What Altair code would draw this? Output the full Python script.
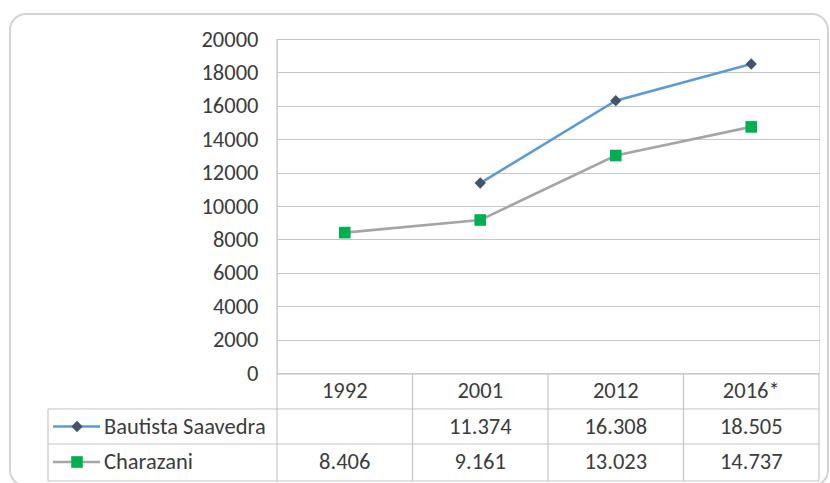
import altair as alt
import pandas as pd

# ---- data ----
years = ["1992", "2001", "2012", "2016*"]
series = ["Bautista Saavedra", "Charazani"]
bautista = [None, 11374, 16308, 18505]
charazani = [8406, 9161, 13023, 14737]
y_ticks = list(range(0, 20001, 2000))

line_colors = ["#5b9bd5", "#a5a5a5"]
marker_colors = ["#44546a", "#00b050"]
marker_shapes = ["diamond", "square"]

FONT = "Carlito, Liberation Sans, Arial, sans-serif"
TXT = "#3c3c3c"
GRID = "#c6c6c6"
FS = 22.5


def fmt(v):
    return f"{v:,}".replace(",", ".")


rows = []
for name, vals in zip(series, [bautista, charazani]):
    for yr, v in zip(years, vals):
        if v is not None:
            rows.append({"year": yr, "series": name, "value": v, "text": fmt(v), "row": name})
df = pd.DataFrame(rows)

table_rows = [{"year": yr, "row": "header", "text": yr} for yr in years]
table_rows += [{"year": r["year"], "row": r["row"], "text": r["text"]} for r in rows]
table_df = pd.DataFrame(table_rows)
legend_df = pd.DataFrame({"series": series, "row": series})

# ---- scales ----
W, H = 542, 334
x_enc = alt.X("year:N", scale=alt.Scale(type="point", domain=years, padding=0.5), axis=None)
y_val = alt.Y(
    "value:Q",
    scale=alt.Scale(domain=[0, 20000], nice=False, zero=True),
    axis=alt.Axis(values=y_ticks, format="d", grid=True, gridColor=GRID, gridWidth=1.2,
                  domain=False, ticks=False, labelPadding=19, labelFontSize=FS,
                  labelFont=FONT, labelColor=TXT, title=None),
)
row_scale = alt.Scale(type="point", domain=["header"] + series, range=[352, 423], padding=0)
y_row = alt.Y("row:N", scale=row_scale, axis=None)

col_line = alt.Color("series:N", scale=alt.Scale(domain=series, range=line_colors), legend=None)
col_fill = alt.Fill("series:N", scale=alt.Scale(domain=series, range=marker_colors), legend=None)
shape_enc = alt.Shape("series:N", scale=alt.Scale(domain=series, range=marker_shapes), legend=None)
size_enc = alt.Size("series:N", scale=alt.Scale(domain=series, range=[130, 135]), legend=None)

one = pd.DataFrame({"k": [0]})


def rule(x1, x2, y1, y2):
    return alt.Chart(one).mark_rule(color=GRID, strokeWidth=1.2).encode(
        x=alt.value(x1), x2=alt.value(x2), y=alt.value(y1), y2=alt.value(y2)
    )


# card border
card = alt.Chart(one).mark_rect(fill="transparent", stroke="#d3d3d3", strokeWidth=2,
                                cornerRadius=16).encode(
    x=alt.value(-267), x2=alt.value(551), y=alt.value(-25), y2=alt.value(447)
)

# table grid
c = W / 4
table_lines = [
    rule(0, W, 335, 335),
    rule(-229, W, 370, 370),
    rule(-229, W, 405, 405),
    rule(-229, W, 442, 442),
    rule(-229, -229, 370, 442),
    rule(0, 0, 0, 442),
    rule(c, c, 335, 442),
    rule(2 * c, 2 * c, 335, 442),
    rule(3 * c, 3 * c, 335, 442),
    rule(W, W, 335, 442),
]

base = alt.Chart(df)
lines = base.mark_line(strokeWidth=2.6).encode(x=x_enc, y=y_val, color=col_line, detail="series:N")
points = base.mark_point(filled=True, opacity=1, strokeWidth=0).encode(
    x=x_enc, y=alt.Y("value:Q", scale=alt.Scale(domain=[0, 20000], nice=False), axis=None),
    fill=col_fill, shape=shape_enc, size=size_enc,
)

table_text = alt.Chart(table_df).mark_text(fontSize=FS, font=FONT, color=TXT, baseline="middle").encode(
    x=x_enc, y=y_row, text="text:N"
)

legend_lines = alt.Chart(legend_df).mark_rule(strokeWidth=2.6).encode(
    x=alt.value(-224), x2=alt.value(-177), y=y_row, color=col_line
)
legend_pts = alt.Chart(legend_df).mark_point(filled=True, opacity=1, strokeWidth=0).encode(
    x=alt.value(-200), y=y_row, fill=col_fill, shape=shape_enc, size=size_enc
)
legend_text = alt.Chart(legend_df).mark_text(fontSize=FS, font=FONT, color=TXT, align="left",
                                             baseline="middle").encode(
    x=alt.value(-173), y=y_row, text="series:N"
)

chart = alt.layer(
    card, *table_lines, lines, points, table_text, legend_lines, legend_pts, legend_text
).resolve_scale(y="independent").properties(
    width=W, height=H, autosize="none",
    padding={"left": 277, "top": 39, "right": 11, "bottom": 110},
).configure_view(stroke=None).configure(background="white")

chart.save("out.html", embed_options={"renderer": "svg", "actions": False})
